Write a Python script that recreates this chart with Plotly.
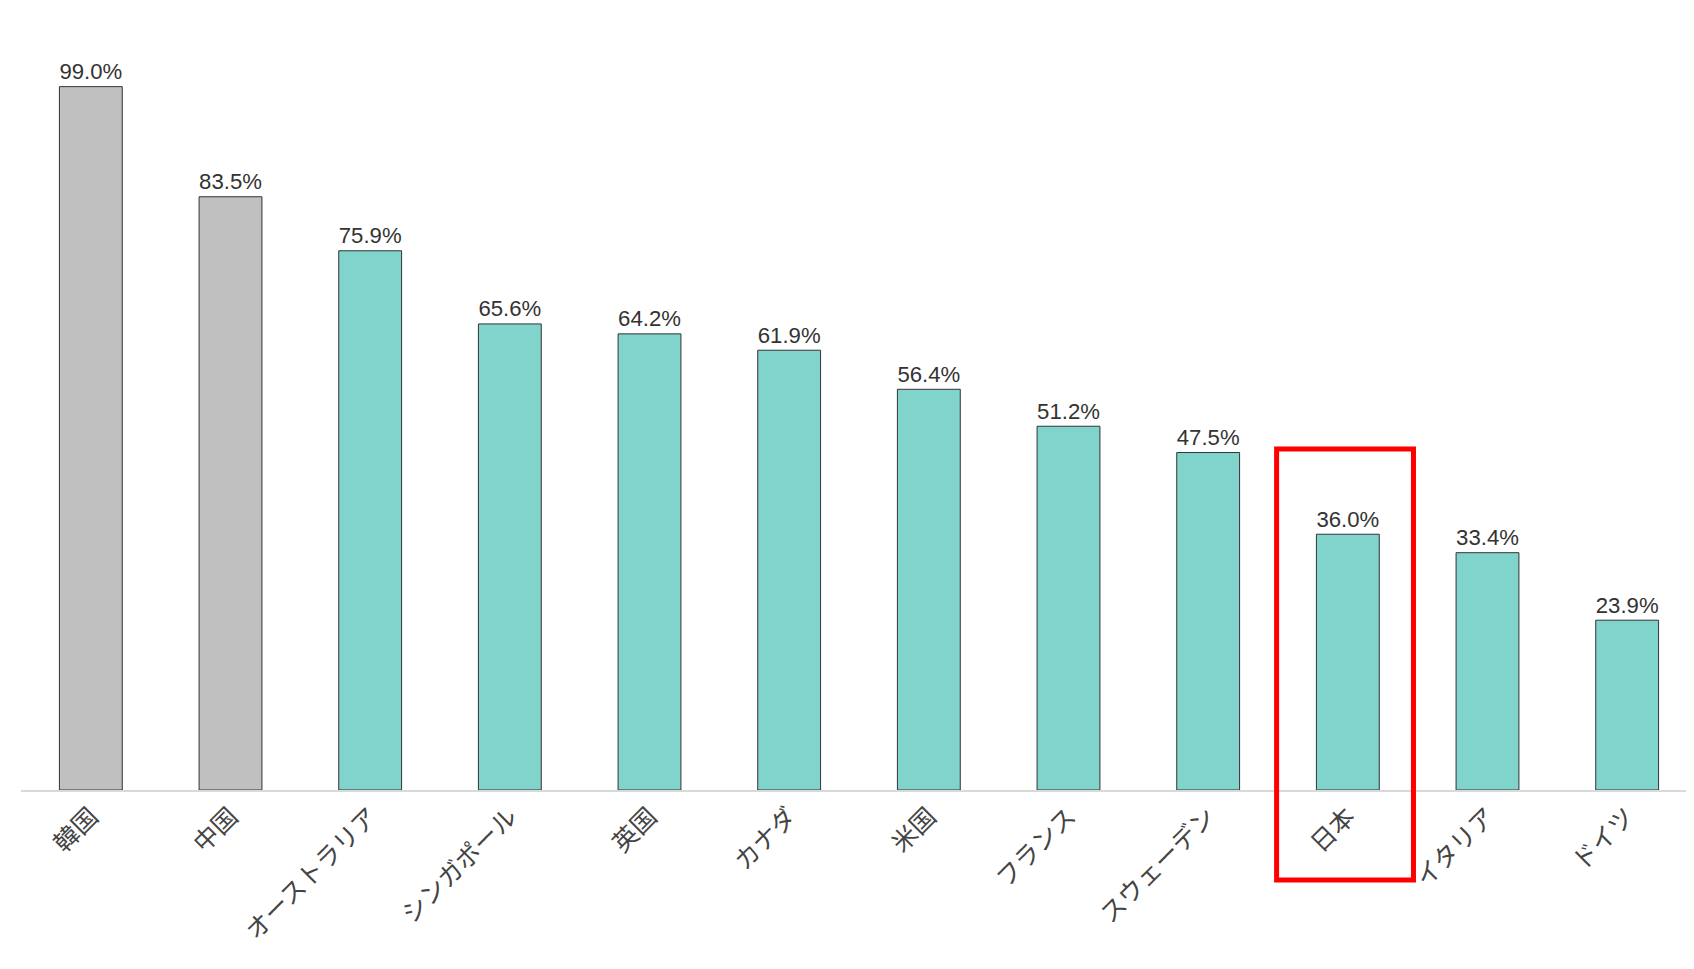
import plotly.graph_objects as go

categories = ["韓国","中国","オーストラリア","シンガポール","英国","カナダ","米国","フランス","スウェーデン","日本","イタリア","ドイツ"]
values = [99.0,83.5,75.9,65.6,64.2,61.9,56.4,51.2,47.5,36.0,33.4,23.9]
colors = ["#c0c0c0","#c0c0c0"] + ["#80d4cc"]*10

fig = go.Figure(go.Bar(
    x=categories, y=values, marker=dict(color=colors, line=dict(color="#333333", width=1)),
    text=[f"{v:.1f}%" for v in values], textposition="outside", cliponaxis=False,
    textfont=dict(size=29, color="#333333", family="Liberation Sans, Arial")))
fig.update_layout(
    width=1694, height=969, plot_bgcolor="white", paper_bgcolor="white",
    margin=dict(l=13, r=5, t=36, b=187), bargap=0.55, showlegend=False,
    font=dict(family="Noto Sans CJK JP", color="#444444"))
fig.update_yaxes(range=[0,105], visible=False)
fig.update_xaxes(tickangle=-45, tickfont=dict(size=25, color="#444444"), showline=True,
                 linecolor="#d9d9d9", linewidth=2, ticks="")
fig.add_shape(type="rect", xref="x", yref="paper", x0=8.49, x1=9.47, y0=-0.1206, y1=0.457,
              line=dict(color="#ff0000", width=5))
fig.write_html("out.html")
